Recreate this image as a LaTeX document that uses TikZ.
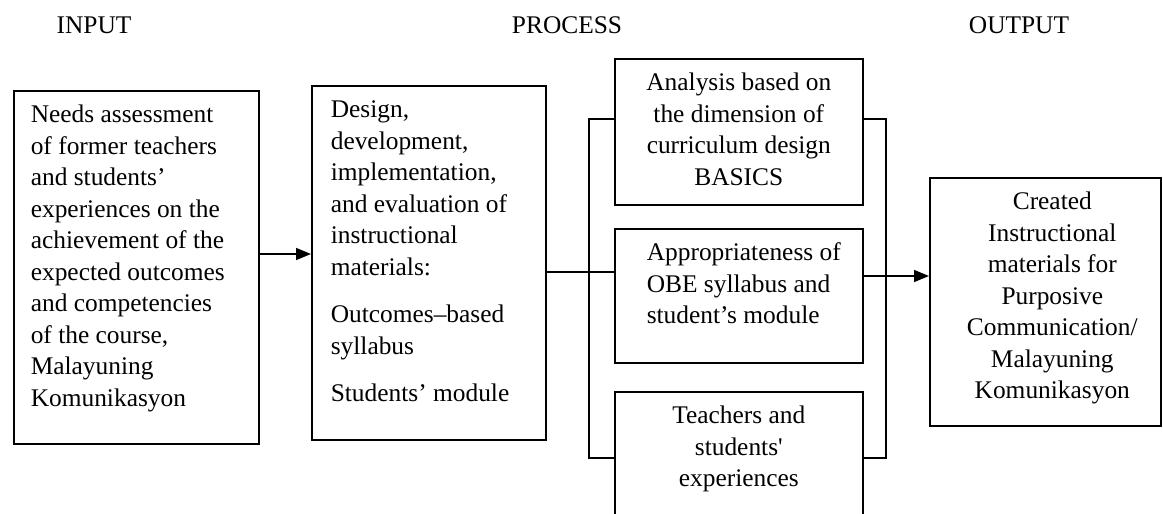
\documentclass[tikz,border=0pt]{standalone}
\usepackage{fontspec}
\setmainfont{Liberation Serif}
\usetikzlibrary{arrows.meta}
\newcommand{\firstline}{\rule{0pt}{32pt}}
\tikzset{
  box/.style = {draw, line width=1.6pt, inner sep=0pt, anchor=north west},
  link/.style = {line width=1.6pt},
  arr/.style = {link, -{Triangle[length=15pt, width=12pt]}},
  head/.style = {anchor=base, inner sep=0pt}
}

\begin{document}
\begin{tikzpicture}[x=1pt, y=-1pt, font=\fontsize{25.4}{31.5}\selectfont]
  \useasboundingbox (0,0) rectangle (1163,514);
  % headings
  \node [head] (inputhead) at (94,34) {INPUT};
  \node [head] (processhead) at (567,34) {PROCESS};
  \node [head] (outputhead) at (1019,34) {OUTPUT};

  % boxes
  \node [box] (needs) at (13,90) {\parbox[c][353pt][t]{245pt}{\raggedright\leftskip=17pt\firstline
    Needs assessment\\ of former teachers\\ and students'\\ experiences on the\\ achievement of the\\
    expected outcomes\\ and competencies\\ of the course,\\ Malayuning\\ Komunikasyon}};
  \node [box] (design) at (311,85) {\parbox[c][354pt][t]{234pt}{\raggedright\leftskip=19pt\firstline
    Design,\\ development,\\ implementation,\\ and evaluation of\\ instructional\\ materials:\\[16pt]
    Outcomes--based\\ syllabus\\[16pt] Students' module}};
  \node [box] (basics) at (614,58) {\parbox[c][146pt][t]{248pt}{\centering\firstline
    Analysis based on\\ the dimension of\\ curriculum design\\ BASICS}};
  \node [box] (obe) at (614,228) {\parbox[c][134pt][t]{248pt}{\raggedright\leftskip=32pt\firstline
    Appropriateness of\\ OBE syllabus and\\ student's module}};
  \node [box] (exper) at (614,391) {\parbox[c][135pt][t]{248pt}{\centering\firstline
    Teachers and\\ students\textquotesingle\\ experiences}};
  \node [box] (created) at (929,177) {\parbox[c][248pt][t]{231pt}{\centering\leftskip=14pt plus 1fil\firstline
    Created\\ Instructional\\ materials for\\ Purposive\\ Communication/\\ Malayuning\\ Komunikasyon}};

  % connectors
  \coordinate (inlevel) at (0,254);
  \coordinate (midlevel) at (0,272);
  \coordinate (outlevel) at (0,276);
  \coordinate (lefttop) at (589,119);
  \coordinate (leftbot) at (589,458);
  \coordinate (righttop) at (886,119);
  \coordinate (rightbot) at (886,458);
  \draw [arr] (needs.east |- inlevel) -- (design.west |- inlevel);
  \draw [link] (design.east |- midlevel) -- (obe.west |- midlevel);
  \draw [link] (basics.west |- lefttop) -- (lefttop) -- (leftbot) -- (exper.west |- leftbot);
  \draw [link] (basics.east |- righttop) -- (righttop) -- (rightbot) -- (exper.east |- rightbot);
  \draw [arr] (obe.east |- outlevel) -- (created.west |- outlevel);
\end{tikzpicture}
\end{document}
